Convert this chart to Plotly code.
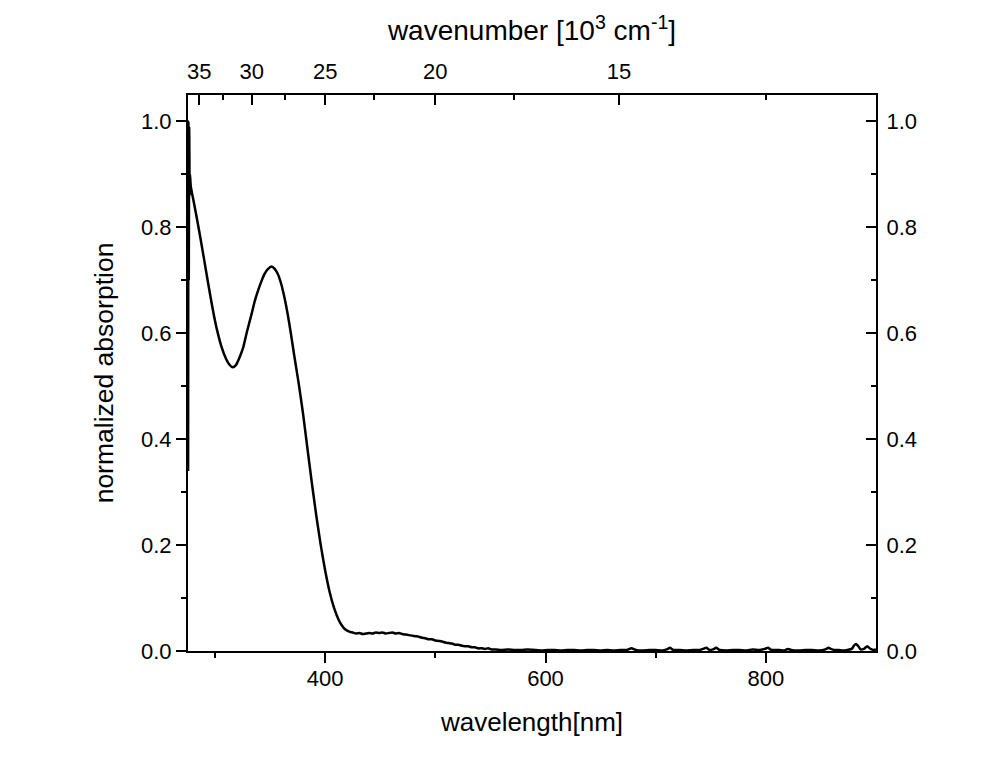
import plotly.graph_objects as go

# ---- data ----
wavelength_nm = [
    275.6, 275.9, 276.2, 276.6, 277.0, 277.3, 278.0, 281.0, 284.0, 287.0, 290.0,
    293.0, 296.0, 299.0, 302.0, 306.0, 310.0, 313.0, 316.0, 319.0, 322.0, 325.7,
    329.0, 333.3, 336.0, 339.3, 342.3, 345.0, 348.0, 351.4, 354.0, 357.0, 360.0,
    363.0, 366.0, 369.0, 372.0, 376.0, 380.0, 384.0, 388.0, 392.0, 396.0, 400.0,
    404.0, 408.0, 412.0,
    414.9, 418.0, 422.4, 425.0, 428.0, 431.0, 434.0, 437.0, 440.0, 443.0, 446.0,
    449.0, 452.0, 455.0, 458.0, 461.0, 464.0, 467.0, 470.0, 473.0, 476.0, 479.0,
    482.0, 485.0, 488.0, 491.0, 494.0, 497.0, 500.0, 503.0, 506.0, 509.0, 512.0,
    515.0, 518.0, 521.0, 524.0, 527.0, 530.0, 533.0, 536.0, 539.0, 542.0, 545.0,
    548.0, 551.0, 555.0, 560.0, 566.0, 572.0, 578.0, 584.0, 590.0, 596.0, 602.0,
    608.0, 614.0, 620.0, 626.0, 632.0, 638.0, 644.0, 650.0, 656.0, 662.0, 668.0,
    674.0, 678.0, 682.0, 688.0, 694.0, 700.0, 706.0, 710.0, 713.0, 716.0, 722.0,
    728.0, 734.0, 740.0, 743.0, 746.0, 749.0, 752.0, 755.0, 758.0, 764.0, 770.0,
    776.0, 782.0, 788.0, 794.0, 799.0, 802.0, 805.0, 812.0, 817.0, 820.0, 823.0,
    830.0, 836.0, 842.0, 848.0, 854.0, 857.0, 859.0, 862.0, 866.0, 870.0, 874.0,
    878.0, 880.0, 882.0, 884.0, 886.0, 889.0, 892.0, 895.0, 898.0, 900.0,
]
absorption = [
    0.34, 1.00, 0.70, 0.99, 0.86, 0.90, 0.878, 0.845, 0.812, 0.777, 0.741,
    0.704, 0.668, 0.634, 0.605, 0.574, 0.552, 0.541, 0.536, 0.540, 0.553, 0.574,
    0.603, 0.637, 0.660, 0.682, 0.699, 0.712, 0.721, 0.726, 0.722, 0.712, 0.694,
    0.668, 0.636, 0.598, 0.557, 0.505, 0.447, 0.381, 0.316, 0.255, 0.200, 0.152,
    0.112, 0.082, 0.060,
    0.049, 0.041, 0.036, 0.035, 0.033, 0.034, 0.032, 0.033, 0.034, 0.033, 0.035,
    0.034, 0.035, 0.033, 0.034, 0.035, 0.033, 0.034, 0.032, 0.031, 0.030, 0.029,
    0.028, 0.027, 0.025, 0.024, 0.022, 0.022, 0.020, 0.019, 0.018, 0.016, 0.015,
    0.014, 0.012, 0.012, 0.010, 0.009, 0.009, 0.007, 0.007, 0.005, 0.005, 0.004,
    0.005, 0.003, 0.003, 0.002, 0.003, 0.002, 0.002, 0.003, 0.002, 0.001, 0.002,
    0.002, 0.001, 0.002, 0.002, 0.001, 0.002, 0.002, 0.001, 0.002, 0.001, 0.002,
    0.002, 0.005, 0.002, 0.001, 0.002, 0.002, 0.001, 0.003, 0.006, 0.002, 0.002,
    0.001, 0.002, 0.002, 0.004, 0.006, 0.002, 0.003, 0.006, 0.002, 0.001, 0.002,
    0.002, 0.001, 0.003, 0.002, 0.004, 0.006, 0.002, 0.002, 0.001, 0.004, 0.002,
    0.001, 0.002, 0.002, 0.001, 0.003, 0.006, 0.004, 0.002, 0.002, 0.001, 0.002,
    0.004, 0.010, 0.013, 0.009, 0.003, 0.004, 0.009, 0.004, 0.002, 0.003,
]

x_range = [275.5, 900]
y_range = [0, 1.05]
x_ticks = [400, 600, 800]
x_minor = [300, 500, 700]
y_ticks = [0.0, 0.2, 0.4, 0.6, 0.8, 1.0]
y_minor = [0.1, 0.3, 0.5, 0.7, 0.9]
wavenumber_labels = [35, 30, 25, 20, 15]           # 10^3 cm^-1
wavenumber_minor = [32.5, 27.5, 22.5, 17.5, 12.5]   # 10^3 cm^-1

top_tickvals = [1e4 / k for k in wavenumber_labels]
top_minorvals = [1e4 / k for k in wavenumber_minor]

FONT = "Liberation Sans, Arial, sans-serif"

fig = go.Figure()
fig.add_trace(go.Scatter(
    x=wavelength_nm, y=absorption, mode="lines",
    line=dict(color="black", width=2.5, shape="spline", smoothing=0.5),
    showlegend=False,
))
# helper trace so the top/right axes are drawn
fig.add_trace(go.Scatter(
    x=wavelength_nm, y=absorption, mode="lines", xaxis="x2", yaxis="y2",
    line=dict(color="rgba(0,0,0,0)", width=0), showlegend=False, hoverinfo="skip",
))

common = dict(showline=True, linecolor="black", linewidth=2, showgrid=False,
              zeroline=False, tickcolor="black", tickwidth=2,
              tickfont=dict(family=FONT, size=22, color="black"))

def minor(vals, side):
    return dict(tickmode="array", tickvals=vals, ticks=side,
                ticklen=5, tickcolor="black", tickwidth=2)

fig.update_layout(
    width=1000, height=769,
    margin=dict(l=188, r=124, t=95, b=118),
    paper_bgcolor="white", plot_bgcolor="white",
    font=dict(family=FONT, color="black"),
    xaxis=dict(range=x_range, tickmode="array", tickvals=x_ticks,
               ticks="outside", ticklen=10, ticklabelstandoff=-3,
               minor=minor(x_minor, "outside"),
               title=dict(text="wavelength[nm]", font=dict(family=FONT, size=26),
                          standoff=22),
               **common),
    xaxis2=dict(range=x_range, overlaying="x", side="top", anchor="y",
                tickmode="array", tickvals=top_tickvals,
                ticktext=[str(k) for k in wavenumber_labels],
                ticks="inside", ticklen=10, ticklabelstandoff=5,
                minor=minor(top_minorvals, "inside"),
                title=dict(text="wavenumber [10<sup>3</sup> cm<sup>-1</sup>]",
                           font=dict(family=FONT, size=28), standoff=10),
                **common),
    yaxis=dict(range=y_range, tickmode="array", tickvals=y_ticks, tickformat=".1f",
               ticks="outside", ticklen=10,
               minor=minor(y_minor, "outside"),
               title=dict(text="normalized absorption", font=dict(family=FONT, size=26.5),
                          standoff=20),
               **common),
    yaxis2=dict(range=y_range, overlaying="y", side="right", anchor="x",
                tickmode="array", tickvals=y_ticks, tickformat=".1f",
                ticks="inside", ticklen=10, ticklabelstandoff=4,
                minor=minor(y_minor, "inside"),
                **common),
)

fig.write_html("out.html")
